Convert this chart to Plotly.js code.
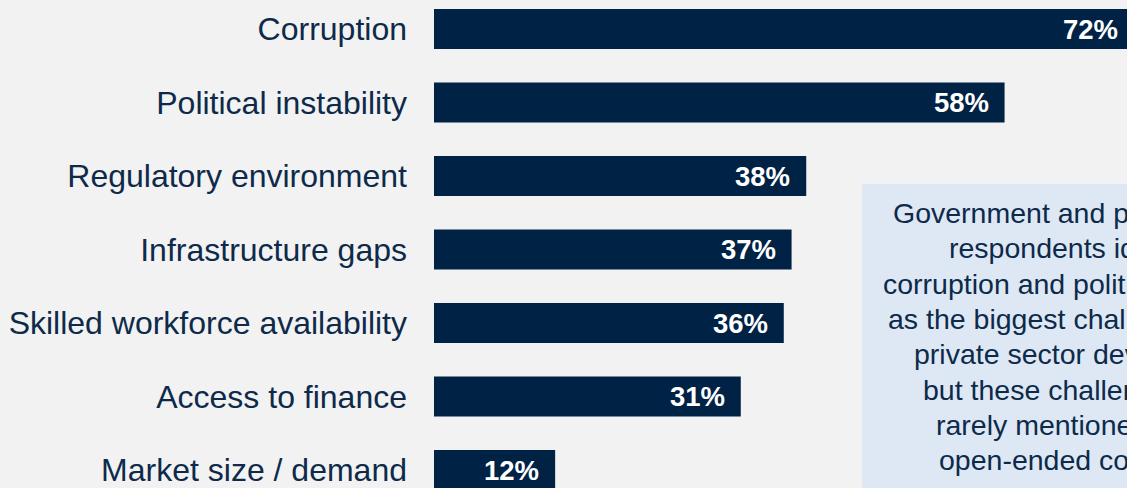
<!DOCTYPE html>
<html>
<head>
<meta charset="utf-8">
<script src="https://cdn.plot.ly/plotly-3.0.1.min.js"></script>
<style>
html, body { margin: 0; padding: 0; background: #f2f2f2; overflow: hidden; width: 1127px; height: 488px; }
#chart { width: 1411px; height: 560px; }
</style>
</head>
<body>
<div id="chart"></div>
<script>
const categories = [
  "Corruption",
  "Political instability",
  "Regulatory environment",
  "Infrastructure gaps",
  "Skilled workforce availability",
  "Access to finance",
  "Market size / demand"
];
const shares = [71.6, 58.4, 38.1, 36.6, 35.8, 31.4, 12.4];
const valueLabels = ["72%", "58%", "38%", "37%", "36%", "31%", "12%"];
const noteLines = [
  "Government and private sector",
  "respondents identified",
  "corruption and political instability",
  "as the biggest challenges to the",
  "private sector development,",
  "but these challenges were",
  "rarely mentioned in their",
  "open-ended comments."
];

const NAVY = "#002244";
const TEXT = "#0e2a4a";
const FONT = "Arial, 'Liberation Sans', sans-serif";

const W = 1411, H = 560, L = 434;
const px2paperX = px => (px - L) / (W - L);
const px2paperY = py => 1 - py / H;

const annotations = [];
shares.forEach((v, i) => {
  annotations.push({
    x: v, y: categories[i], xref: "x", yref: "y",
    text: valueLabels[i], showarrow: false,
    xanchor: "right", yanchor: "middle", xshift: -14,
    font: { family: FONT, size: 27.5, color: "#ffffff", weight: "bold" }
  });
});
noteLines.forEach((t, i) => {
  annotations.push({
    x: px2paperX(1088.5), y: px2paperY(213 + i * 35.3), xref: "paper", yref: "paper",
    text: t, showarrow: false, xanchor: "center", yanchor: "middle",
    font: { family: FONT, size: 28.5, color: TEXT }
  });
});

const trace = {
  type: "bar",
  orientation: "h",
  x: shares,
  y: categories,
  marker: { color: NAVY, line: { width: 0 } },
  hoverinfo: "none"
};

const layout = {
  width: W, height: H,
  margin: { l: L, r: 0, t: 0, b: 0, pad: 0 },
  paper_bgcolor: "#f2f2f2",
  plot_bgcolor: "#f2f2f2",
  showlegend: false,
  bargap: 0.456,
  xaxis: { range: [0, 100], visible: false, fixedrange: true },
  yaxis: {
    type: "category",
    categoryorder: "array",
    categoryarray: categories,
    range: [7.2244, -0.3946],
    showgrid: false, zeroline: false, showline: false,
    ticks: "", ticklabelstandoff: 26,
    tickfont: { family: FONT, size: 32, color: TEXT },
    fixedrange: true
  },
  shapes: [{
    type: "rect", xref: "paper", yref: "paper",
    x0: px2paperX(862), x1: px2paperX(1315),
    y0: px2paperY(184), y1: px2paperY(540),
    fillcolor: "#dde8f4", line: { width: 0 }, layer: "below"
  }],
  annotations: annotations
};

Plotly.newPlot("chart", [trace], layout, { staticPlot: true, displayModeBar: false });
</script>
</body>
</html>
